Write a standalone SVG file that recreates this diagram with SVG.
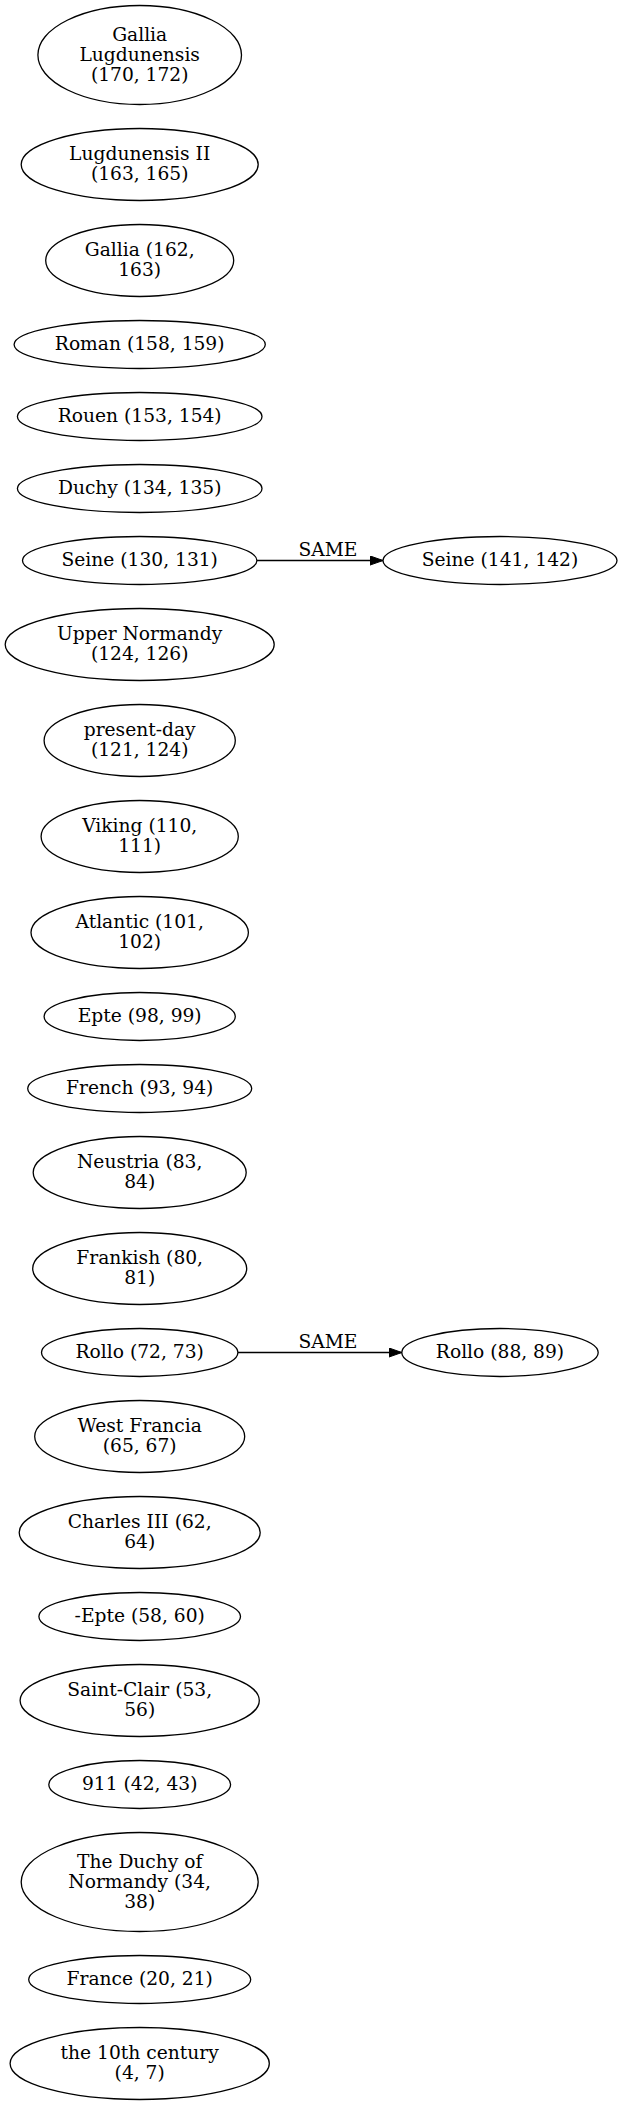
<svg xmlns="http://www.w3.org/2000/svg" width="620" height="2104" viewBox="0 0 620 2104">
<defs>
<style>
.n ellipse{fill:none;stroke:#000;stroke-width:1.3}
text{font-family:"DejaVu Serif","Liberation Serif",serif;font-size:18.67px;fill:#000;text-anchor:middle}
.e path{fill:none;stroke:#000;stroke-width:1.3}
</style>
<marker id="ah" markerWidth="14" markerHeight="10" refX="13.3" refY="5" orient="auto" markerUnits="userSpaceOnUse">
<polygon points="0,0.3 13.3,5 0,9.7" fill="#000" stroke="#000" stroke-width="1"/>
</marker>
</defs>
<rect width="620" height="2104" fill="#fff"/>
<g id="n_gallia_lugdunensis" class="n"><ellipse cx="139.7" cy="55" rx="101.8" ry="49.5"/><text x="139.7" y="41">Gallia</text><text x="139.7" y="60.8">Lugdunensis</text><text x="139.7" y="80.6">(170, 172)</text></g>
<g id="n_lugdunensis_ii" class="n"><ellipse cx="139.7" cy="164.5" rx="118.5" ry="36"/><text x="139.7" y="160.3">Lugdunensis II</text><text x="139.7" y="180.1">(163, 165)</text></g>
<g id="n_gallia" class="n"><ellipse cx="139.7" cy="260.5" rx="94" ry="36"/><text x="139.7" y="256.3">Gallia (162,</text><text x="139.7" y="276.1">163)</text></g>
<g id="n_roman" class="n"><ellipse cx="139.7" cy="344.5" rx="125.6" ry="24"/><text x="139.7" y="350">Roman (158, 159)</text></g>
<g id="n_rouen" class="n"><ellipse cx="139.7" cy="416.5" rx="122.3" ry="24"/><text x="139.7" y="422">Rouen (153, 154)</text></g>
<g id="n_duchy" class="n"><ellipse cx="139.7" cy="488.5" rx="122.3" ry="24"/><text x="139.7" y="494">Duchy (134, 135)</text></g>
<g id="n_seine_130" class="n"><ellipse cx="139.7" cy="560.5" rx="117.2" ry="24"/><text x="139.7" y="566">Seine (130, 131)</text></g>
<g id="n_seine_141" class="n"><ellipse cx="500" cy="560.5" rx="117" ry="24"/><text x="500" y="566">Seine (141, 142)</text></g>
<g id="n_upper_normandy" class="n"><ellipse cx="139.7" cy="644.5" rx="134.5" ry="36"/><text x="139.7" y="640.3">Upper Normandy</text><text x="139.7" y="660.1">(124, 126)</text></g>
<g id="n_present_day" class="n"><ellipse cx="139.7" cy="740.5" rx="95.6" ry="36"/><text x="139.7" y="736.3">present-day</text><text x="139.7" y="756.1">(121, 124)</text></g>
<g id="n_viking" class="n"><ellipse cx="139.7" cy="836.5" rx="98.6" ry="36"/><text x="139.7" y="832.3">Viking (110,</text><text x="139.7" y="852.1">111)</text></g>
<g id="n_atlantic" class="n"><ellipse cx="139.7" cy="932.5" rx="108.7" ry="36"/><text x="139.7" y="928.3">Atlantic (101,</text><text x="139.7" y="948.1">102)</text></g>
<g id="n_epte" class="n"><ellipse cx="139.7" cy="1016.5" rx="95.6" ry="24"/><text x="139.7" y="1022">Epte (98, 99)</text></g>
<g id="n_french" class="n"><ellipse cx="139.7" cy="1088.5" rx="112" ry="24"/><text x="139.7" y="1094">French (93, 94)</text></g>
<g id="n_neustria" class="n"><ellipse cx="139.7" cy="1172.5" rx="106.5" ry="36"/><text x="139.7" y="1168.3">Neustria (83,</text><text x="139.7" y="1188.1">84)</text></g>
<g id="n_frankish" class="n"><ellipse cx="139.7" cy="1268.5" rx="107" ry="36"/><text x="139.7" y="1264.3">Frankish (80,</text><text x="139.7" y="1284.1">81)</text></g>
<g id="n_rollo_72" class="n"><ellipse cx="139.7" cy="1352.5" rx="98.2" ry="24"/><text x="139.7" y="1358">Rollo (72, 73)</text></g>
<g id="n_rollo_88" class="n"><ellipse cx="500" cy="1352.5" rx="98.2" ry="24"/><text x="500" y="1358">Rollo (88, 89)</text></g>
<g id="n_west_francia" class="n"><ellipse cx="139.7" cy="1436.5" rx="105" ry="36"/><text x="139.7" y="1432.3">West Francia</text><text x="139.7" y="1452.1">(65, 67)</text></g>
<g id="n_charles_iii" class="n"><ellipse cx="139.7" cy="1532.5" rx="120.5" ry="36"/><text x="139.7" y="1528.3">Charles III (62,</text><text x="139.7" y="1548.1">64)</text></g>
<g id="n_epte_58" class="n"><ellipse cx="139.7" cy="1616.5" rx="100.8" ry="24"/><text x="139.7" y="1622">-Epte (58, 60)</text></g>
<g id="n_saint_clair" class="n"><ellipse cx="139.7" cy="1700.5" rx="119.6" ry="36"/><text x="139.7" y="1696.3">Saint-Clair (53,</text><text x="139.7" y="1716.1">56)</text></g>
<g id="n_911" class="n"><ellipse cx="139.7" cy="1784.5" rx="90.9" ry="24"/><text x="139.7" y="1790">911 (42, 43)</text></g>
<g id="n_duchy_of_normandy" class="n"><ellipse cx="139.7" cy="1882" rx="118.5" ry="49.5"/><text x="139.7" y="1868">The Duchy of</text><text x="139.7" y="1887.8">Normandy (34,</text><text x="139.7" y="1907.6">38)</text></g>
<g id="n_france" class="n"><ellipse cx="139.7" cy="1979.5" rx="111" ry="24"/><text x="139.7" y="1985">France (20, 21)</text></g>
<g id="n_10th_century" class="n"><ellipse cx="139.7" cy="2063.5" rx="129.6" ry="36"/><text x="139.7" y="2059.3">the 10th century</text><text x="139.7" y="2079.1">(4, 7)</text></g>
<g id="connectors" class="e">
<g id="e_seine"><path d="M257,560.5 L383,560.5" marker-end="url(#ah)"/><text x="328" y="556">SAME</text></g>
<g id="e_rollo"><path d="M238,1352.5 L401.8,1352.5" marker-end="url(#ah)"/><text x="328" y="1348">SAME</text></g>
</g>
</svg>
